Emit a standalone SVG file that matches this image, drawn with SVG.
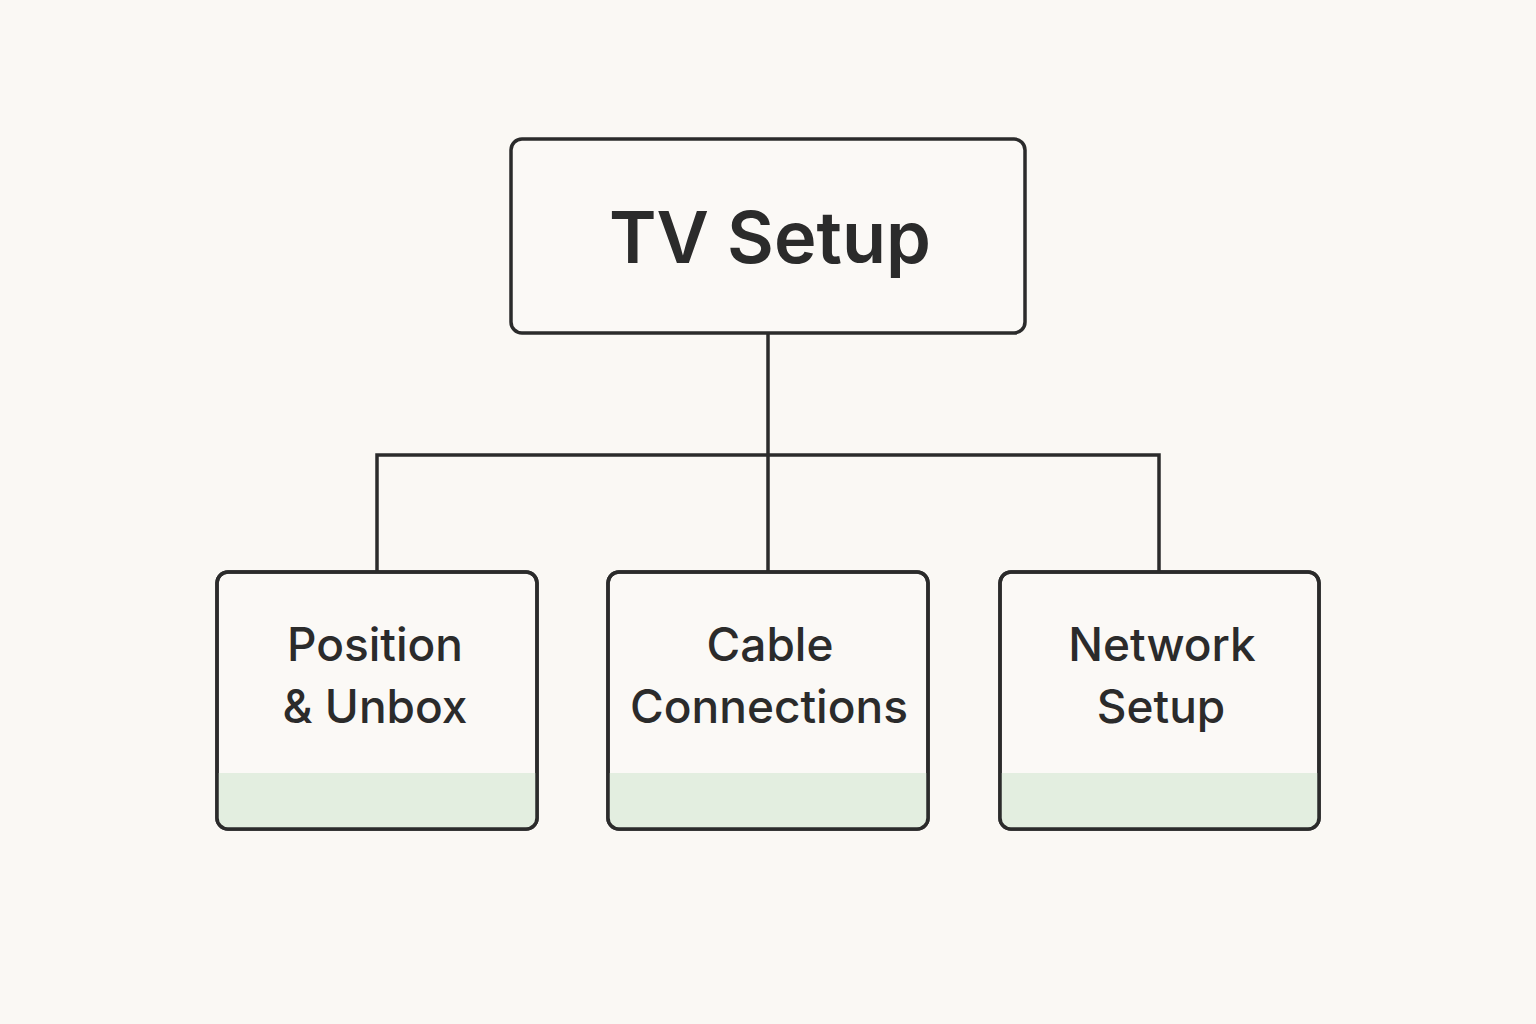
<svg xmlns="http://www.w3.org/2000/svg" width="1536" height="1024" viewBox="0 0 1536 1024">
<style>
.box{fill:#fbf9f6;stroke:#2b2b2b;stroke-width:3.5}
.band{fill:#e3eee0}
.conn{fill:none;stroke:#2b2b2b;stroke-width:3.5}
.t{font-family:Inter,"Liberation Sans",sans-serif;fill:#2b2b2b;text-anchor:middle}
.title{font-size:72px;font-weight:600}
.lbl{font-size:46px;font-weight:500}
</style>
<rect width="1536" height="1024" fill="#faf8f4"/>
<g id="connectors">
<path class="conn" d="M768 333V455M377 572V455H1159V572M768 455V572"/>
</g>
<g id="tv-setup">
<rect class="box" x="511" y="139" width="514" height="194" rx="11"/>
<text class="t title" x="770" y="263">TV Setup</text>
</g>
<defs>
<clipPath id="c1"><rect x="217" y="572" width="320" height="257" rx="11"/></clipPath>
<clipPath id="c2"><rect x="608" y="572" width="320" height="257" rx="11"/></clipPath>
<clipPath id="c3"><rect x="1000" y="572" width="319" height="257" rx="11"/></clipPath>
</defs>
<g id="position-unbox">
<rect class="box" x="217" y="572" width="320" height="257" rx="11"/>
<rect class="band" x="217" y="773" width="320" height="56" clip-path="url(#c1)"/>
<rect x="217" y="572" width="320" height="257" rx="11" fill="none" stroke="#2b2b2b" stroke-width="3.5"/>
<text class="t lbl" x="375" y="661">Position</text>
<text class="t lbl" x="375" y="723">&amp; Unbox</text>
</g>
<g id="cable-connections">
<rect class="box" x="608" y="572" width="320" height="257" rx="11"/>
<rect class="band" x="608" y="773" width="320" height="56" clip-path="url(#c2)"/>
<rect x="608" y="572" width="320" height="257" rx="11" fill="none" stroke="#2b2b2b" stroke-width="3.5"/>
<text class="t lbl" x="770" y="661">Cable</text>
<text class="t lbl" x="769" y="723">Connections</text>
</g>
<g id="network-setup">
<rect class="box" x="1000" y="572" width="319" height="257" rx="11"/>
<rect class="band" x="1000" y="773" width="319" height="56" clip-path="url(#c3)"/>
<rect x="1000" y="572" width="319" height="257" rx="11" fill="none" stroke="#2b2b2b" stroke-width="3.5"/>
<text class="t lbl" x="1162" y="661">Network</text>
<text class="t lbl" x="1161" y="723">Setup</text>
</g>
</svg>
